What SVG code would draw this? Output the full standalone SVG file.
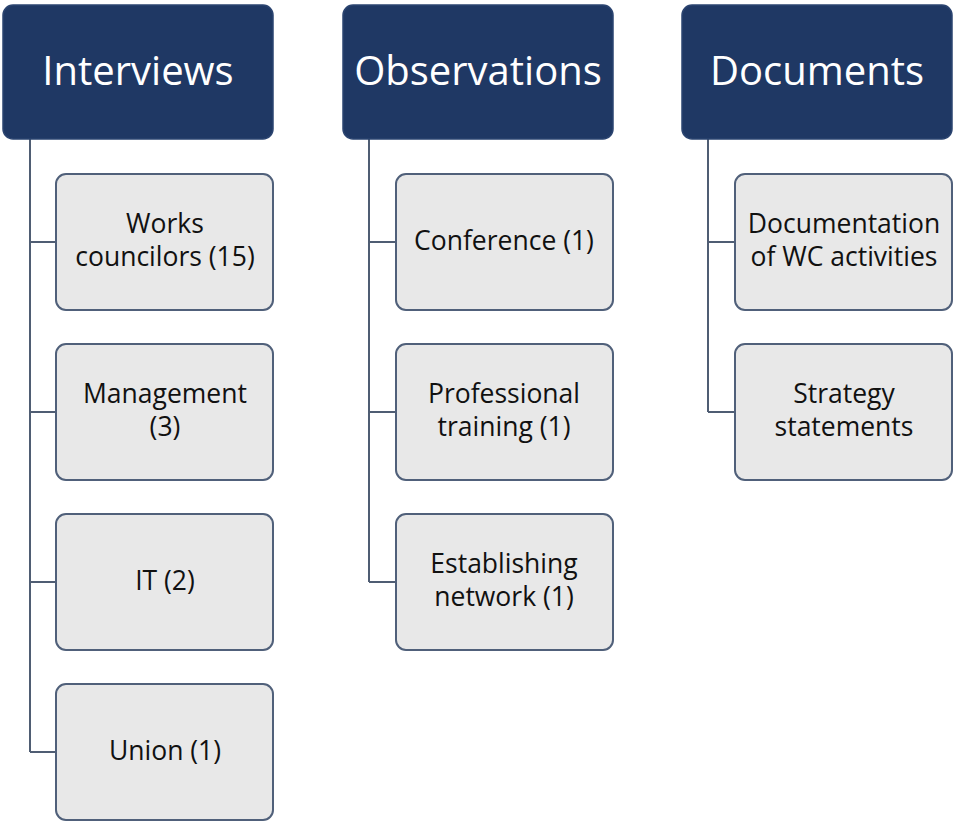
<svg xmlns="http://www.w3.org/2000/svg" width="954" height="825" viewBox="0 0 954 825">
<style>
.hdr{fill:#1f3864;stroke:#2b4470;stroke-width:1.5}
.hdrt{fill:#ffffff;font-family:"Open Sans","Liberation Sans",sans-serif;font-size:40px;text-anchor:middle}
.box{fill:#e8e8e8;stroke:#50607a;stroke-width:2}
.boxt{fill:#111111;font-family:"Open Sans","Liberation Sans",sans-serif;font-size:26.5px;text-anchor:middle}
.con{fill:none;stroke:#4f5d73;stroke-width:2}
</style>
<rect width="954" height="825" fill="#ffffff"/>
<g id="connectors">
<path class="con" d="M30,139 V752 M30,242 H56 M30,412 H56 M30,582 H56 M30,752 H56"/>
<path class="con" d="M369,139 V582 M369,242 H396 M369,412 H396 M369,582 H396"/>
<path class="con" d="M708,139 V412 M708,242 H735 M708,412 H735"/>
</g>
<g id="interviews"><rect class="hdr" x="3" y="5" width="270" height="134" rx="10"/><text class="hdrt" x="138" y="85">Interviews</text></g>
<g id="observations"><rect class="hdr" x="343" y="5" width="270" height="134" rx="10"/><text class="hdrt" x="478" y="85">Observations</text></g>
<g id="documents"><rect class="hdr" x="682" y="5" width="270" height="134" rx="10"/><text class="hdrt" x="817" y="85">Documents</text></g>
<g id="works-councilors"><rect class="box" x="56" y="174" width="217" height="136" rx="10"/><text class="boxt" x="165" y="233">Works</text><text class="boxt" x="165" y="266">councilors (15)</text></g>
<g id="management"><rect class="box" x="56" y="344" width="217" height="136" rx="10"/><text class="boxt" x="165" y="403">Management</text><text class="boxt" x="165" y="436">(3)</text></g>
<g id="it"><rect class="box" x="56" y="514" width="217" height="136" rx="10"/><text class="boxt" x="165" y="590">IT (2)</text></g>
<g id="union"><rect class="box" x="56" y="684" width="217" height="136" rx="10"/><text class="boxt" x="165" y="760">Union (1)</text></g>
<g id="conference"><rect class="box" x="396" y="174" width="217" height="136" rx="10"/><text class="boxt" x="504" y="250">Conference (1)</text></g>
<g id="professional-training"><rect class="box" x="396" y="344" width="217" height="136" rx="10"/><text class="boxt" x="504" y="403">Professional</text><text class="boxt" x="504" y="436">training (1)</text></g>
<g id="establishing-network"><rect class="box" x="396" y="514" width="217" height="136" rx="10"/><text class="boxt" x="504" y="573">Establishing</text><text class="boxt" x="504" y="606">network (1)</text></g>
<g id="documentation"><rect class="box" x="735" y="174" width="217" height="136" rx="10"/><text class="boxt" x="844" y="233">Documentation</text><text class="boxt" x="844" y="266">of WC activities</text></g>
<g id="strategy"><rect class="box" x="735" y="344" width="217" height="136" rx="10"/><text class="boxt" x="844" y="403">Strategy</text><text class="boxt" x="844" y="436">statements</text></g>
</svg>
